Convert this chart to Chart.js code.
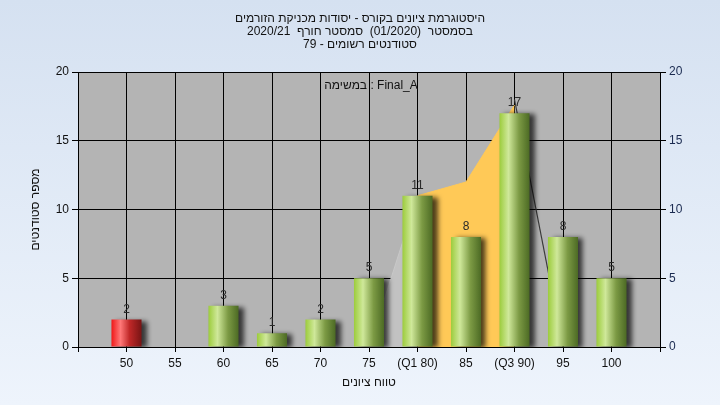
<!DOCTYPE html>
<html>
<head>
<meta charset="utf-8">
<script src="https://cdn.jsdelivr.net/npm/chart.js@4.4.1/dist/chart.umd.min.js"></script>
<style>
    html, body { margin: 0; padding: 0; }
    body { width: 720px; height: 405px; overflow: hidden; background: linear-gradient(#d5e1f1, #eef4fc); }
</style>
</head>
<body>
<canvas id="myChart" width="720" height="405"></canvas>
<script>
// Data
// =======================================================
var categories = [50, 55, 60, 65, 70, 75, 80, 85, 90, 95, 100];
var tickLabels = ["50", "55", "60", "65", "70", "75", "(Q1 80)", "85", "(Q3 90)", "95", "100"];
var counts = [2, 0, 3, 1, 2, 5, 11, 8, 17, 8, 5];
var yTicks = [0, 5, 10, 15, 20];

// quartile overlay behind the bars
var lowX = [75, 80];
var lowY = [0, 11];
var boxX = [80, 85, 90];
var boxY = [11, 12, 17.6];
var highX = [90, 95];
var highY = [18, 0];

var titleLines = [
    "היסטוגרמת ציונים בקורס - יסודות מכניקת הזורמים",
    "בסמסטר  (01/2020)  סמסטר חורף  2020/21",
    "סטודנטים רשומים - 79"
];
var legendText = "במשימה : Final_A";
var xTitle = "טווח ציונים";
var yTitle = "מספר סטודנטים";

var FONT = "'Liberation Sans', 'DejaVu Sans', sans-serif";
Chart.defaults.font.family = FONT;
Chart.defaults.font.size = 12;
Chart.defaults.color = "#111";

function toPoints(xs, ys) {
    return xs.map(function (x, i) { return { x: x, y: ys[i] }; });
}

// Horizontal gradient so the bars look like cylinders
// =======================================================
function barFill(context) {
    var chart = context.chart;
    var xs = chart.scales.x;
    var red = context.dataIndex === 0;
    if (!xs || !chart.chartArea) return red ? "#e02020" : "#9cc24a";
    var cx = xs.getPixelForValue(categories[context.dataIndex]);
    var half = (xs.getPixelForValue(55) - xs.getPixelForValue(50)) * 0.31;
    var g = chart.ctx.createLinearGradient(cx - half, 0, cx + half, 0);
    if (red) {
        g.addColorStop(0, "#f01818");
        g.addColorStop(0.3, "#ff7878");
        g.addColorStop(0.6, "#c02828");
        g.addColorStop(1, "#781414");
    } else {
        g.addColorStop(0, "#9ccc3c");
        g.addColorStop(0.3, "#cfe89a");
        g.addColorStop(0.65, "#7c9a44");
        g.addColorStop(1, "#4c6a24");
    }
    return g;
}

var shadowPlugin = {
    id: "barShadow",
    beforeDatasetDraw: function (chart, args) {
        if (args.meta.type !== "bar") return;
        var c = chart.ctx;
        c.save();
        c.shadowColor = "rgba(0,0,0,0.7)";
        c.shadowOffsetX = 5;
        c.shadowOffsetY = 1;
        c.shadowBlur = 5;
    },
    afterDatasetDraw: function (chart, args) {
        if (args.meta.type === "bar") chart.ctx.restore();
    }
};

// Titles, legend text and bar value labels
// =======================================================
var textPlugin = {
    id: "texts",
    beforeDraw: function (chart) {
        var c = chart.ctx, a = chart.chartArea;
        c.save();
        c.fillStyle = "#b4b4b4";
        c.fillRect(a.left, a.top, a.right - a.left, a.bottom - a.top);
        c.restore();
    },
    afterDatasetsDraw: function (chart) {
        var c = chart.ctx;
        c.save();
        c.font = "12px " + FONT;
        c.fillStyle = "#111";
        c.textAlign = "center";
        c.textBaseline = "middle";
        titleLines.forEach(function (t, i) {
            c.fillText(t, 360, 19 + i * 13);
        });
        c.fillText(legendText, 371, 86);

        var meta = chart.getDatasetMeta(0);
        c.fillStyle = "#2a2a2a";
        c.textBaseline = "alphabetic";
        meta.data.forEach(function (bar, i) {
            if (counts[i] > 0) c.fillText(String(counts[i]), bar.x, bar.y - 7);
        });
        c.restore();
    }
};

var ctx = document.getElementById("myChart");

var myChart = new Chart(ctx, {
    data: {
        datasets: [{
            type: "bar",
            label: "Final_A",
            data: toPoints(categories, counts),
            backgroundColor: barFill,
            borderWidth: 0,
            barPercentage: 0.62,
            categoryPercentage: 1,
            order: 0
        }, {
            type: "line",
            data: toPoints(lowX, lowY),
            fill: "origin",
            backgroundColor: "#c2c2c2",
            borderColor: "#c8c8c8",
            borderWidth: 1,
            pointRadius: 0,
            order: 2
        }, {
            type: "line",
            data: toPoints(boxX, boxY),
            fill: "origin",
            backgroundColor: "#ffc957",
            borderColor: "#ffc957",
            borderWidth: 1,
            pointRadius: 0,
            order: 2
        }, {
            type: "line",
            data: toPoints(highX, highY),
            fill: false,
            borderColor: "#3a3a3a",
            borderWidth: 1.2,
            pointRadius: 0,
            order: 2
        }]
    },
    options: {
        responsive: false,
        animation: false,
        layout: { padding: { top: 72 } },
        plugins: {
            legend: { display: false },
            tooltip: { enabled: false }
        },
        scales: {
            x: {
                type: "linear",
                min: 45,
                max: 105,
                offset: false,
                ticks: {
                    stepSize: 5,
                    autoSkip: false,
                    maxRotation: 0,
                    padding: 4,
                    callback: function (v) {
                        var i = categories.indexOf(v);
                        return i < 0 ? "" : tickLabels[i];
                    }
                },
                grid: { color: "#000", tickLength: 5, offset: false },
                border: { color: "#000" },
                title: { display: true, text: xTitle, padding: { top: 4, bottom: 15 } },
                afterFit: function (s) { s.height = 58; }
            },
            y: {
                position: "left",
                min: 0,
                max: 20,
                afterBuildTicks: function (s) { s.ticks = yTicks.map(function (v) { return { value: v }; }); },
                ticks: { padding: 3 },
                grid: { color: "#000", tickLength: 6 },
                border: { color: "#000" },
                title: { display: true, text: yTitle, padding: { top: 28, bottom: 0 } },
                afterFit: function (s) { s.width = 78; }
            },
            y2: {
                position: "right",
                min: 0,
                max: 20,
                afterBuildTicks: function (s) { s.ticks = yTicks.map(function (v) { return { value: v }; }); },
                ticks: { padding: 3, color: "#1a2a50" },
                grid: { drawOnChartArea: false, color: "#000", tickLength: 6 },
                border: { color: "#000" },
                afterFit: function (s) { s.width = 60; }
            }
        }
    },
    plugins: [textPlugin, shadowPlugin]
});
</script>
</body>
</html>
